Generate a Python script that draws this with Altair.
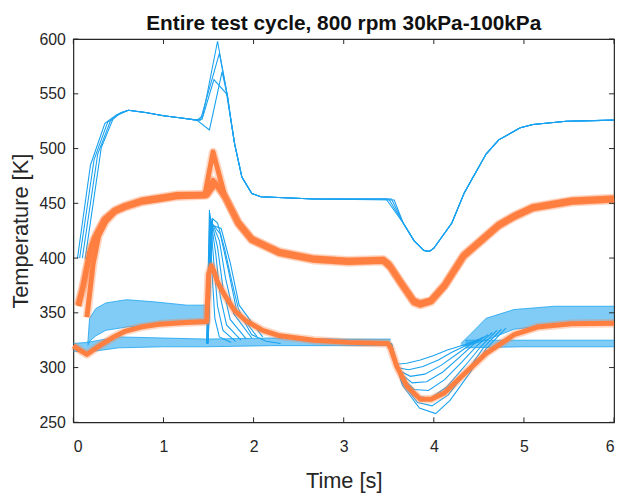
import altair as alt
import pandas as pd

BLUE = "#1AA2F0"
ORANGE = "#FF7F40"
INK = "#262626"
FONT = "Liberation Sans"

TITLE = "Entire test cycle, 800 rpm 30kPa-100kPa"
X_TITLE = "Time [s]"
Y_TITLE = "Temperature [K]"
x_ticks = [0, 1, 2, 3, 4, 5, 6]
y_ticks = [250, 300, 350, 400, 450, 500, 550, 600]

# ---- upper blue group (4 runs) ----
blue_top_1 = [(0.046, 400), (0.19, 485), (0.35, 523), (0.48, 531), (0.61, 535), (0.80, 533), (1.00, 530), (1.20, 528), (1.37, 526), (1.43, 527), (1.60, 598), (1.71, 548), (1.75, 525), (1.79, 504), (1.87, 474), (1.98, 459), (2.08, 456), (2.67, 454), (3.47, 454), (3.66, 432), (3.78, 416), (3.89, 407), (3.95, 406), (4.00, 409), (4.20, 432), (4.34, 460), (4.58, 495), (4.72, 508), (4.96, 519), (5.10, 522), (5.47, 525), (6.00, 526)]
blue_top_2 = [(0.07, 400), (0.23, 490), (0.38, 524), (0.50, 531), (0.61, 535), (0.80, 533), (1.00, 530), (1.20, 528), (1.37, 526), (1.41, 526), (1.62, 587), (1.71, 548), (1.75, 525), (1.79, 504), (1.87, 474), (1.98, 459), (2.08, 456), (2.67, 454), (3.50, 454), (3.66, 432), (3.78, 416), (3.89, 407), (3.95, 406), (4.00, 409), (4.20, 432), (4.34, 460), (4.58, 495), (4.72, 508), (4.96, 519), (5.10, 522), (5.47, 525), (6.00, 526)]
blue_top_3 = [(0.10, 400), (0.27, 495), (0.41, 525), (0.51, 532), (0.61, 535), (0.80, 533), (1.00, 530), (1.20, 528), (1.37, 526), (1.44, 530), (1.56, 563), (1.70, 550), (1.75, 525), (1.79, 504), (1.87, 474), (1.98, 459), (2.08, 456), (2.67, 454), (3.53, 454), (3.66, 432), (3.78, 416), (3.89, 407), (3.95, 406), (4.00, 409), (4.20, 432), (4.34, 460), (4.58, 495), (4.72, 508), (4.96, 519), (5.10, 522), (5.47, 525), (6.00, 526)]
blue_top_4 = [(0.13, 399), (0.31, 501), (0.44, 527), (0.53, 533), (0.61, 535), (0.80, 533), (1.00, 530), (1.20, 528), (1.37, 526), (1.51, 517), (1.65, 570), (1.71, 548), (1.75, 525), (1.79, 504), (1.87, 474), (1.98, 459), (2.08, 456), (2.67, 454), (3.56, 453), (3.66, 432), (3.78, 416), (3.89, 407), (3.95, 406), (4.00, 409), (4.20, 432), (4.34, 460), (4.58, 495), (4.72, 508), (4.96, 519), (5.10, 522), (5.47, 525), (6.00, 526)]

# ---- blue spike fan near 1.5 s ----
spike_0 = [(1.48, 322), (1.51, 444), (1.54, 385), (1.57, 345), (1.62, 328), (1.75, 323)]
spike_1 = [(1.48, 322), (1.515, 441), (1.56, 395), (1.60, 356), (1.66, 334), (1.80, 324)]
spike_2 = [(1.485, 322), (1.52, 438), (1.58, 404), (1.63, 365), (1.70, 339), (1.86, 325)]
spike_3 = [(1.485, 322), (1.525, 436), (1.60, 410), (1.66, 373), (1.74, 344), (1.92, 326)]
spike_4 = [(1.49, 322), (1.53, 434), (1.62, 416), (1.69, 381), (1.78, 349), (1.98, 327)]
spike_5 = [(1.49, 322), (1.535, 432), (1.63, 422), (1.72, 389), (1.81, 353), (2.04, 328)]
spike_6 = [(1.495, 322), (1.54, 430), (1.64, 427), (1.74, 396), (1.84, 357), (2.10, 328)]
spike_7 = [(1.495, 322), (1.545, 436), (1.60, 432), (1.68, 408), (1.76, 378), (1.83, 354), (1.91, 340), (1.98, 330), (2.14, 324), (2.30, 322)]

# ---- blue dip fan near 3.5-4.5 s ----
dip_0 = [(3.50, 322), (3.58, 303), (3.70, 304), (3.85, 307), (4.00, 311), (4.15, 316), (4.35, 321), (4.45, 324)]
dip_1 = [(3.50, 322), (3.59, 300), (3.72, 298), (3.88, 301), (4.05, 307), (4.20, 314), (4.38, 321), (4.50, 326)]
dip_2 = [(3.51, 322), (3.60, 298), (3.74, 292), (3.90, 294), (4.08, 302), (4.25, 312), (4.42, 322), (4.55, 328)]
dip_3 = [(3.51, 322), (3.61, 296), (3.76, 286), (3.92, 287), (4.10, 296), (4.28, 309), (4.45, 322), (4.60, 330)]
dip_4 = [(3.52, 322), (3.62, 293), (3.78, 280), (3.94, 279), (4.12, 289), (4.31, 305), (4.48, 320), (4.65, 332)]
dip_5 = [(3.52, 322), (3.63, 290), (3.80, 274), (3.96, 272), (4.14, 282), (4.34, 301), (4.52, 319), (4.70, 334)]
dip_6 = [(3.53, 322), (3.64, 287), (3.82, 268), (3.98, 265), (4.16, 275), (4.37, 297), (4.55, 318), (4.75, 335)]
dip_7 = [(3.53, 322), (3.65, 284), (3.84, 263), (4.02, 258), (4.18, 270), (4.39, 294), (4.58, 317), (4.80, 336)]

# ---- oscillating blue bands (envelopes) ----
band_a1_t = [0.16, 0.18, 0.25, 0.36, 0.59, 0.90, 1.26, 1.48]
band_a1_hi = [322, 345, 354, 359, 362, 360, 357, 357]
band_a1_lo = [320, 324, 329, 334, 337, 339, 340, 340]
band_a2_t = [4.30, 4.40, 4.58, 4.89, 5.34, 6.00]
band_a2_hi = [322, 330, 345, 353, 356, 356]
band_a2_lo = [320, 321, 325, 335, 339, 341]
band_b1_t = [0.00, 0.15, 0.50, 1.00, 1.48, 2.20, 3.00, 3.52]
band_b1_hi = [322, 323, 328, 327, 326, 327, 326, 326]
band_b1_lo = [315, 314, 318, 319, 319, 320, 320, 320]
band_b2_t = [4.35, 5.00, 6.00]
band_b2_hi = [325, 325, 325]
band_b2_lo = [318, 319, 319]

# ---- orange runs ----
orange_top_1 = [(0.05, 357), (0.10, 372), (0.18, 405), (0.23, 418), (0.34, 435), (0.46, 443), (0.57, 447), (0.76, 452), (1.00, 455), (1.15, 457), (1.46, 458), (1.55, 497), (1.68, 457), (1.83, 432), (1.98, 417), (2.29, 405), (2.67, 399), (3.05, 397), (3.44, 398), (3.51, 393), (3.63, 378), (3.78, 360), (3.85, 358), (3.97, 361), (4.12, 375), (4.33, 402), (4.58, 420), (4.72, 430), (4.89, 438), (5.10, 446), (5.53, 452), (6.00, 454)]
orange_top_2 = [(0.15, 346), (0.17, 360), (0.22, 395), (0.28, 420), (0.36, 433), (0.46, 442), (0.57, 446), (0.76, 451), (1.00, 454), (1.15, 456), (1.47, 457), (1.55, 471), (1.68, 456), (1.83, 431), (1.98, 416), (2.29, 404), (2.67, 398), (3.05, 396), (3.44, 397), (3.52, 391), (3.64, 376), (3.78, 359), (3.85, 357), (3.97, 360), (4.12, 374), (4.33, 401), (4.58, 419), (4.72, 429), (4.89, 437), (5.10, 445), (5.53, 451), (6.00, 453)]
orange_top_3 = [(0.06, 356), (0.12, 378), (0.20, 410), (0.26, 422), (0.35, 436), (0.46, 444), (0.57, 448), (0.76, 453), (1.00, 456), (1.15, 458), (1.49, 458), (1.58, 468), (1.69, 455), (1.83, 433), (1.98, 418), (2.29, 406), (2.67, 400), (3.05, 398), (3.44, 399), (3.50, 395), (3.62, 380), (3.77, 362), (3.85, 359), (3.97, 362), (4.12, 376), (4.33, 403), (4.58, 421), (4.72, 431), (4.89, 439), (5.10, 447), (5.53, 453), (6.00, 455)]
orange_bottom = [(0.00, 320), (0.07, 316), (0.15, 312), (0.22, 316), (0.31, 321), (0.45, 328), (0.57, 333), (0.75, 337), (0.95, 339.5), (1.20, 341), (1.48, 342), (1.50, 385), (1.53, 393), (1.56, 388), (1.60, 378), (1.68, 366), (1.79, 352), (1.91, 343), (2.10, 334), (2.29, 329), (2.67, 325), (3.05, 323), (3.49, 322), (3.52, 318), (3.59, 301), (3.70, 283), (3.85, 271), (3.97, 271), (4.12, 277), (4.31, 292), (4.58, 313), (4.89, 330), (5.15, 337), (5.53, 340), (6.00, 340.5)]


def lines_df(named):
    rows = []
    for name, pts in named.items():
        for t, v in pts:
            rows.append({"t": t, "T": v, "id": name})
    return pd.DataFrame(rows)


blue_df = lines_df({
    "bt1": blue_top_1, "bt2": blue_top_2, "bt3": blue_top_3, "bt4": blue_top_4,
    "s0": spike_0, "s1": spike_1, "s2": spike_2, "s3": spike_3,
    "s4": spike_4, "s5": spike_5, "s6": spike_6, "s7": spike_7,
    "d0": dip_0, "d1": dip_1, "d2": dip_2, "d3": dip_3,
    "d4": dip_4, "d5": dip_5, "d6": dip_6, "d7": dip_7,
})
orange_df = lines_df({
    "ot1": orange_top_1, "ot2": orange_top_2, "ot3": orange_top_3, "ob": orange_bottom,
})

band_rows = []
for seg, (ts, his, los) in {
    "a1": (band_a1_t, band_a1_hi, band_a1_lo),
    "a2": (band_a2_t, band_a2_hi, band_a2_lo),
    "b1": (band_b1_t, band_b1_hi, band_b1_lo),
    "b2": (band_b2_t, band_b2_hi, band_b2_lo),
}.items():
    for t, h, l in zip(ts, his, los):
        band_rows.append({"t": t, "hi": h, "lo": l, "seg": seg})
band_df = pd.DataFrame(band_rows)

W, H = 546, 387
xs = alt.Scale(domain=[0, 6], nice=False, zero=False)
ys = alt.Scale(domain=[250, 600], nice=False, zero=False)
xax = alt.Axis(values=x_ticks, tickSize=0, domain=False, grid=False, labelFontSize=16,
               labelColor=INK, labelFont=FONT, labelPadding=16, title=X_TITLE,
               titleFontSize=22, titleFontWeight="normal", titleColor=INK, titleFont=FONT,
               titlePadding=17)
yax = alt.Axis(values=y_ticks, tickSize=0, domain=False, grid=False, labelFontSize=16,
               labelColor=INK, labelFont=FONT, labelPadding=8, title=Y_TITLE,
               titleFontSize=22, titleFontWeight="normal", titleColor=INK, titleFont=FONT,
               titlePadding=7)

bands = alt.Chart(band_df).mark_area(color=BLUE, opacity=0.55, clip=True).encode(
    x=alt.X("t:Q", scale=xs, axis=xax),
    y=alt.Y("lo:Q", scale=ys, axis=yax),
    y2="hi:Q",
    detail="seg:N",
)
band_hi = alt.Chart(band_df).mark_line(color=BLUE, strokeWidth=1, opacity=0.8).encode(
    x=alt.X("t:Q", scale=xs, axis=xax), y=alt.Y("hi:Q", scale=ys, axis=yax), detail="seg:N")
band_lo = alt.Chart(band_df).mark_line(color=BLUE, strokeWidth=1, opacity=0.8).encode(
    x=alt.X("t:Q", scale=xs, axis=xax), y=alt.Y("lo:Q", scale=ys, axis=yax), detail="seg:N")

blue = alt.Chart(blue_df).mark_line(color=BLUE, strokeWidth=1.1, clip=True).encode(
    x=alt.X("t:Q", scale=xs, axis=xax), y=alt.Y("T:Q", scale=ys, axis=yax), detail="id:N")
orange_halo = alt.Chart(orange_df).mark_line(color=ORANGE, strokeWidth=8.5, opacity=0.3,
                                             strokeJoin="round").encode(
    x=alt.X("t:Q", scale=xs, axis=xax), y=alt.Y("T:Q", scale=ys, axis=yax), detail="id:N")
orange = alt.Chart(orange_df).mark_line(color=ORANGE, strokeWidth=5, strokeJoin="round").encode(
    x=alt.X("t:Q", scale=xs, axis=xax), y=alt.Y("T:Q", scale=ys, axis=yax), detail="id:N")

xt = pd.DataFrame({"v": x_ticks})
yt = pd.DataFrame({"v": y_ticks})
tick_b = alt.Chart(xt).mark_rule(color=INK).encode(
    x=alt.X("v:Q", scale=xs, axis=xax), y=alt.value(H), y2=alt.value(H - 5))
tick_t = alt.Chart(xt).mark_rule(color=INK).encode(
    x=alt.X("v:Q", scale=xs, axis=xax), y=alt.value(0), y2=alt.value(5))
tick_l = alt.Chart(yt).mark_rule(color=INK).encode(
    y=alt.Y("v:Q", scale=ys, axis=yax), x=alt.value(0), x2=alt.value(5))
tick_r = alt.Chart(yt).mark_rule(color=INK).encode(
    y=alt.Y("v:Q", scale=ys, axis=yax), x=alt.value(W), x2=alt.value(W - 5))

chart = alt.layer(
    bands, band_hi, band_lo, blue, orange_halo, orange, tick_b, tick_t, tick_l, tick_r
).properties(
    width=W, height=H,
    title=alt.TitleParams(TITLE, fontSize=21, fontWeight="bold", font=FONT, color="#111111",
                          anchor="middle", offset=-3),
    autosize=alt.AutoSizeParams(type="none"),
    padding={"left": 66, "top": 29, "right": 6, "bottom": 70},
).configure_view(stroke=INK, strokeWidth=1.2)

chart.save("out.html", embed_options={"renderer": "svg", "actions": False})
